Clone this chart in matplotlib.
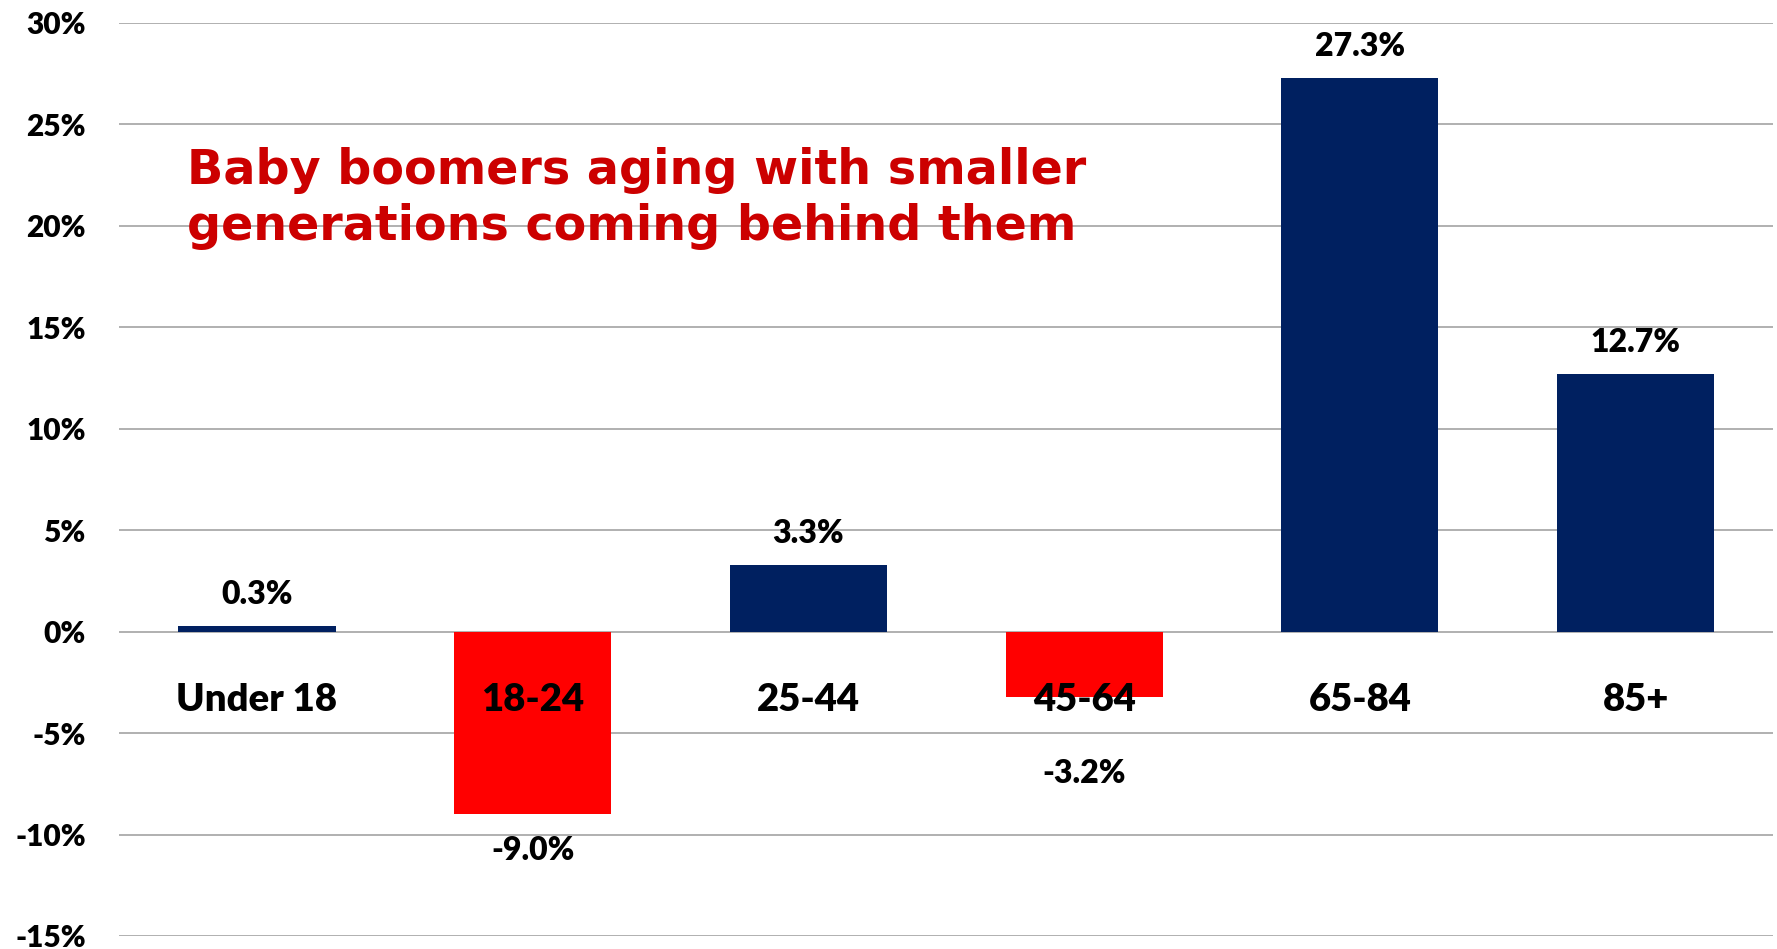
import matplotlib
matplotlib.use("Agg")
import matplotlib.pyplot as plt
from matplotlib.ticker import FuncFormatter

# Datos del grafico
grupos_edad = ["Under 18", "18-24", "25-44", "45-64", "65-84", "85+"]
cambio_pct = [0.3, -9.0, 3.3, -3.2, 27.3, 12.7]
ticks_y = [-15, -10, -5, 0, 5, 10, 15, 20, 25, 30]
titulo = ["Baby boomers aging with smaller", "generations coming behind them"]

azul = "#002060"
rojo = "#FF0000"
fuente = ["Lato", "DejaVu Sans"]

plt.rcParams["font.family"] = fuente

fig = plt.figure(figsize=(17.77, 9.49), dpi=100)
ax = fig.add_axes([0.067, 0.0137, 0.931, 0.9623])

colores = [azul if v >= 0 else rojo for v in cambio_pct]
posiciones = list(range(len(grupos_edad)))
ax.bar(posiciones, cambio_pct, width=0.57, color=colores, zorder=2)

ax.set_xlim(-0.5, len(grupos_edad) - 0.5)
ax.set_ylim(ticks_y[0], ticks_y[-1])
ax.set_yticks(ticks_y)
ax.yaxis.set_major_formatter(FuncFormatter(lambda v, p: f"{v:.0f}%"))
ax.grid(axis="y", color="#AAAAAA", linewidth=1.3, zorder=0)
ax.set_axisbelow(True)
ax.set_xticks([])
ax.tick_params(axis="y", length=0, pad=24, labelsize=21.5)
for etiqueta in ax.get_yticklabels():
    etiqueta.set_fontweight("heavy")
for lado in ax.spines.values():
    lado.set_visible(False)

# etiquetas de valores
for x, v in zip(posiciones, cambio_pct):
    if v >= 0:
        desplazamiento, va = 12, "bottom"
    elif v > -5:
        desplazamiento, va = -45, "top"
    else:
        desplazamiento, va = -16, "top"
    ax.annotate(f"{v:.1f}%", xy=(x, v), xytext=(0, desplazamiento),
                textcoords="offset points", ha="center", va=va,
                fontsize=23, fontweight="heavy", zorder=3)

# nombres de categorias sobre las barras
for x, nombre in zip(posiciones, grupos_edad):
    ax.annotate(nombre, xy=(x, 0), xytext=(0, -49), textcoords="offset points",
                ha="center", va="center", fontsize=27.5, fontweight="heavy", zorder=3)

fig.text(0.105, 0.806, titulo[0], color="#CC0000", fontsize=34.3, fontweight="bold",
         family="DejaVu Sans", va="baseline")
fig.text(0.105, 0.747, titulo[1], color="#CC0000", fontsize=34.3, fontweight="bold",
         family="DejaVu Sans", va="baseline")

fig.savefig("out.png", dpi=100)
